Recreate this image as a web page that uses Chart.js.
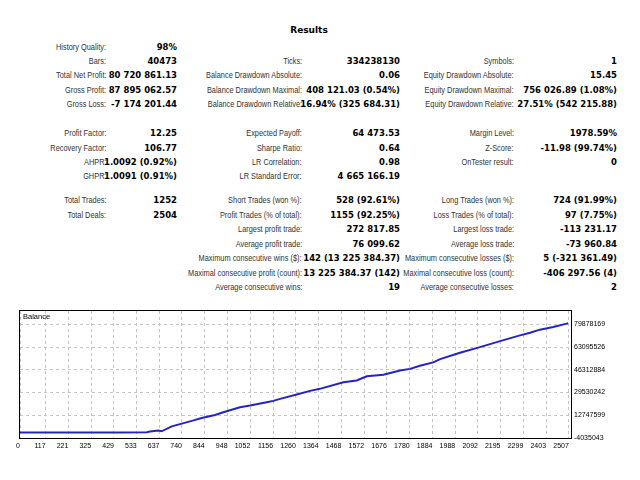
<!DOCTYPE html>
<html lang="en">
<head>
  <meta charset="UTF-8" />
  <title>Results</title>
  <script src="https://cdn.jsdelivr.net/npm/chart.js"></script>
  <style>
    body {
      margin: 0;
      background: #fff;
      width: 640px;
      height: 480px;
      position: relative;
      overflow: hidden;
    }
    .title {
      position: absolute;
      left: 259px;
      width: 100px;
      top: 25px;
      text-align: center;
      font: bold 9px "DejaVu Sans", sans-serif;
      color: #000;
    }
    .lbl, .val {
      position: absolute;
      white-space: nowrap;
      text-align: right;
    }
    .lbl {
      font: 9px/12px "Liberation Sans", Arial, sans-serif;
      color: #333;
      /* Tahoma-like narrow labels */
      transform: scaleX(0.82);
      transform-origin: right center;
    }
    .val {
      font: bold 8.5px/12px "DejaVu Sans", sans-serif;
      color: #000;
    }
    #chartBox {
      position: absolute;
      left: 0;
      top: 300px;
      width: 640px;
      height: 160px;
    }
  </style>
</head>
<body>
  <div class="title">Results</div>
  <div id="report"></div>
  <div id="chartBox"><canvas id="balanceChart"></canvas></div>

  <script>
    // balance curve (deal number -> balance)
    const deals = [0, 440, 457, 579, 594, 632, 647, 693, 739, 789, 830, 891, 929, 1005, 1051,
      1127, 1157, 1188, 1264, 1325, 1370, 1477, 1538, 1584, 1660, 1736, 1782, 1827, 1888,
      1919, 2010, 2101, 2193, 2284, 2330, 2375, 2436, 2497, 2504];
    const balance = [10000, 50000, 110000, 260000, 700000, 1500000, 900000, 4560000, 6560000,
      8780000, 10780000, 13000000, 14920000, 18630000, 19890000, 22330000, 23370000, 24850000,
      28030000, 30770000, 32250000, 37140000, 38400000, 41580000, 42620000, 45800000, 47000000,
      49300000, 51800000, 54200000, 58920000, 63060000, 67510000, 71730000, 73730000, 75950000,
      77870000, 80390000, 80730000];
    const xTicks = [0, 117, 221, 325, 429, 533, 637, 740, 844, 948, 1052, 1156, 1260, 1364, 1468,
      1572, 1676, 1780, 1884, 1988, 2092, 2195, 2299, 2403, 2507];
    const yTicks = [-4035043, 12747599, 29530242, 46312884, 63095526, 79878169];

    // report table: [row, label, value] per column
    const col1 = [
      [0, "History Quality:", "98%"],
      [1, "Bars:", "40473"],
      [2, "Total Net Profit:", "80 720 861.13"],
      [3, "Gross Profit:", "87 895 062.57"],
      [4, "Gross Loss:", "-7 174 201.44"],
      [5, "Profit Factor:", "12.25"],
      [6, "Recovery Factor:", "106.77"],
      [7, "AHPR:", "1.0092 (0.92%)"],
      [8, "GHPR:", "1.0091 (0.91%)"],
      [9, "Total Trades:", "1252"],
      [10, "Total Deals:", "2504"]
    ];
    const col2 = [
      [1, "Ticks:", "334238130"],
      [2, "Balance Drawdown Absolute:", "0.06"],
      [3, "Balance Drawdown Maximal:", "408 121.03 (0.54%)"],
      [4, "Balance Drawdown Relative:", "16.94% (325 684.31)"],
      [5, "Expected Payoff:", "64 473.53"],
      [6, "Sharpe Ratio:", "0.64"],
      [7, "LR Correlation:", "0.98"],
      [8, "LR Standard Error:", "4 665 166.19"],
      [9, "Short Trades (won %):", "528 (92.61%)"],
      [10, "Profit Trades (% of total):", "1155 (92.25%)"],
      [11, "Largest profit trade:", "272 817.85"],
      [12, "Average profit trade:", "76 099.62"],
      [13, "Maximum consecutive wins ($):", "142 (13 225 384.37)"],
      [14, "Maximal consecutive profit (count):", "13 225 384.37 (142)"],
      [15, "Average consecutive wins:", "19"]
    ];
    const col3 = [
      [1, "Symbols:", "1"],
      [2, "Equity Drawdown Absolute:", "15.45"],
      [3, "Equity Drawdown Maximal:", "756 026.89 (1.08%)"],
      [4, "Equity Drawdown Relative:", "27.51% (542 215.88)"],
      [5, "Margin Level:", "1978.59%"],
      [6, "Z-Score:", "-11.98 (99.74%)"],
      [7, "OnTester result:", "0"],
      [9, "Long Trades (won %):", "724 (91.99%)"],
      [10, "Loss Trades (% of total):", "97 (7.75%)"],
      [11, "Largest loss trade:", "-113 231.17"],
      [12, "Average loss trade:", "-73 960.84"],
      [13, "Maximum consecutive losses ($):", "5 (-321 361.49)"],
      [14, "Maximal consecutive loss (count):", "-406 297.56 (4)"],
      [15, "Average consecutive losses:", "2"]
    ];

    const rowY = [46.7, 61, 75.3, 89.7, 104, 133.3, 147.5, 161.5, 175.5,
      200, 214.5, 229, 243.5, 258, 272.5, 287];

    function addCells(rows, lblRight, valRight) {
      const report = document.getElementById('report');
      rows.forEach(([r, label, value]) => {
        const l = document.createElement('div');
        l.className = 'lbl';
        l.style.right = (640 - lblRight) + 'px';
        l.style.top = (rowY[r] - 6) + 'px';
        l.textContent = label;
        report.appendChild(l);
        const v = document.createElement('div');
        v.className = 'val';
        v.style.right = (640 - valRight) + 'px';
        v.style.top = (rowY[r] - 6) + 'px';
        v.textContent = value;
        report.appendChild(v);
      });
    }
    addCells(col1, 106.5, 177);
    addCells(col2, 302, 400);
    addCells(col3, 514, 617);

    const tickFont = { family: "'Liberation Sans', sans-serif", size: 7 };

    // frame round the plot and the "Balance" caption
    const framePlugin = {
      id: 'frame',
      afterDraw(chart) {
        const a = chart.chartArea;
        const ctx = chart.ctx;
        ctx.save();
        ctx.strokeStyle = '#000';
        ctx.lineWidth = 1;
        ctx.setLineDash([]);
        ctx.strokeRect(a.left - 0.5, a.top - 0.5, a.right - a.left + 1, a.bottom - a.top + 1);
        ctx.fillStyle = '#000';
        ctx.font = "7.5px 'Liberation Sans', sans-serif";
        ctx.textBaseline = 'middle';
        ctx.fillText('Balance', a.left + 3, a.top + 6);
        ctx.restore();
      }
    };

    new Chart(document.getElementById('balanceChart'), {
      type: 'line',
      data: {
        datasets: [{
          label: 'Balance',
          data: deals.map((d, i) => ({ x: d, y: balance[i] })),
          borderColor: '#2424c4',
          borderWidth: 2,
          pointRadius: 0,
          tension: 0,
          fill: false
        }]
      },
      options: {
        responsive: true,
        maintainAspectRatio: false,
        animation: false,
        layout: { padding: { left: 20, top: 11, right: 0, bottom: 0 } },
        plugins: { legend: { display: false }, tooltip: { enabled: false } },
        scales: {
          x: {
            type: 'linear',
            min: 0,
            max: 2517,
            afterBuildTicks: s => { s.ticks = xTicks.map(v => ({ value: v })); },
            afterFit: s => { s.height = 22; },
            grid: { color: '#c4c4c4', drawTicks: false },
            border: { display: false, dash: [3, 3] },
            ticks: {
              autoSkip: false,
              maxRotation: 0,
              align: 'end',
              padding: 4,
              color: '#000',
              font: tickFont,
              callback: v => String(v)
            }
          },
          y: {
            position: 'right',
            min: -4035043,
            max: 89730000,
            afterBuildTicks: s => { s.ticks = yTicks.map(v => ({ value: v })); },
            afterFit: s => { s.width = 69; },
            grid: { color: '#c4c4c4', drawTicks: false },
            border: { display: false, dash: [3, 3] },
            ticks: {
              padding: 3,
              color: '#000',
              font: tickFont,
              callback: v => String(v)
            }
          }
        }
      },
      plugins: [framePlugin]
    });
  </script>
</body>
</html>
